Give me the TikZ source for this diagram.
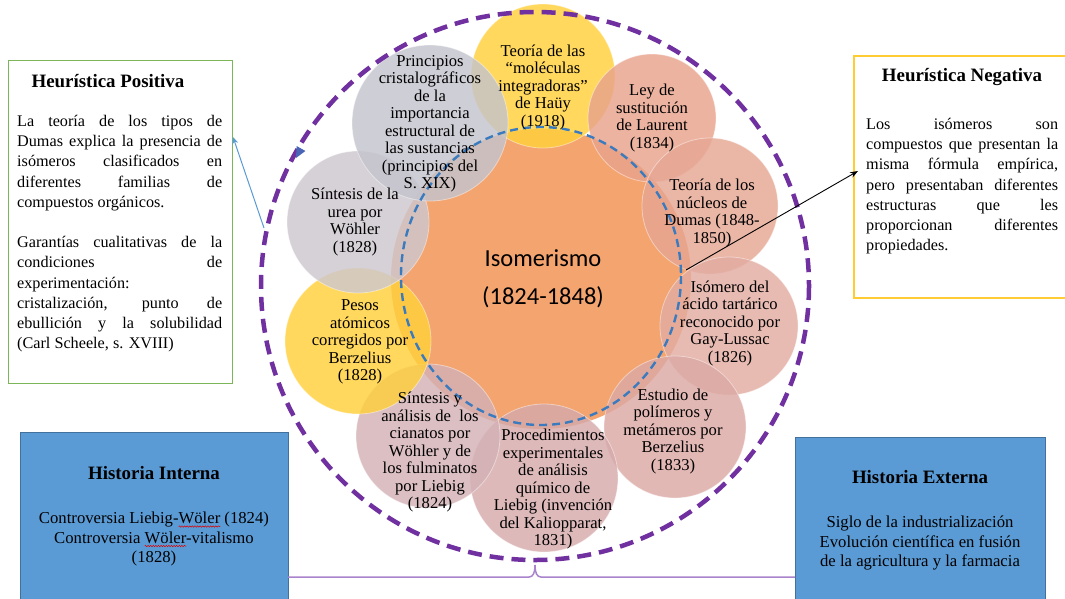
\documentclass[tikz,border=0pt]{standalone}
\usepackage{fontspec}
\setmainfont{Liberation Serif}
\newfontfamily\calibri{Carlito}
\usetikzlibrary{arrows.meta,decorations.pathmorphing}
\definecolor{purp}{HTML}{7030A0}
\definecolor{ringblue}{HTML}{3A7BBF}
\definecolor{orng}{HTML}{F4A46F}
\definecolor{cyel}{HTML}{FFD03A}
\definecolor{claur}{HTML}{E9A38C}
\definecolor{cnuc}{HTML}{E6A693}
\definecolor{ciso}{HTML}{E2ACA2}
\definecolor{cest}{HTML}{DCA9A4}
\definecolor{cproc}{HTML}{D6AAAC}
\definecolor{cian}{HTML}{D4B1B6}
\definecolor{curea}{HTML}{CEC7CF}
\definecolor{cprin}{HTML}{C4C4CD}
\definecolor{boxblue}{HTML}{5B9BD5}
\definecolor{boxedge}{HTML}{41719C}
\definecolor{hgreen}{HTML}{7DB65A}
\definecolor{hyellow}{HTML}{FFC000}
\definecolor{bracecol}{HTML}{A984CC}
\definecolor{arrblue}{HTML}{5B9BD5}
\newlength\wvlen
\newcommand\wavyword[1]{\settowidth\wvlen{#1}\rlap{\tikz[overlay,baseline=0pt,x=1pt,y=1pt]\draw[red!85!black, line width=0.5pt, decorate, decoration={snake, amplitude=0.7pt, segment length=2.6pt}] (0pt,-3pt) -- (\wvlen,-3pt);}#1}
\tikzset{
  satc/.style={circle, inner sep=0pt, minimum size=#1, fill opacity=0.82, draw=white, draw opacity=0.45, line width=0.8pt},
  sattxt/.style={align=center, inner sep=0pt, font=\fontsize{16.6}{17.5}\selectfont},
  boxtitle/.style={inner sep=0pt, font=\bfseries\fontsize{18.9}{21}\selectfont},
  boxbody/.style={inner sep=0pt, align=left, anchor=north west, font=\fontsize{16.2}{20.2}\selectfont},
  histbody/.style={inner sep=0pt, align=center, font=\fontsize{16.7}{19.5}\selectfont},
  histbox/.style={draw=boxedge, fill=boxblue, line width=1pt, inner sep=0pt, anchor=north west},
}
\begin{document}
\begin{tikzpicture}[x=1pt,y=-1pt]
\useasboundingbox (0,0) rectangle (1065,598);
\fill[white] (0,0) rectangle (1065,598);
\clip (0,0) rectangle (1065,598);

% central circle
\node[circle, fill=orng, minimum size=300, inner sep=0pt] (core) at (541,279) {};

% satellites
\node[satc=144, fill=cyel]  (s1) at (543,76) {};
\node[satc=128, fill=claur] (s2) at (652,118) {};
\node[satc=136, fill=cnuc]  (s3) at (710,206) {};
\node[satc=138, fill=ciso]  (s4) at (729,326) {};
\node[satc=142, fill=cest]  (s5) at (675,427) {};
\node[satc=148, fill=cproc] (s6) at (544,478) {};
\node[satc=144, fill=cian]  (s7) at (428,436) {};
\node[satc=146, fill=cyel]  (s8) at (358,341) {};
\node[satc=142, fill=curea] (s9) at (358,222) {};
\node[satc=156, fill=cprin] (s10) at (430,123) {};

% rings
\draw[ringblue, line width=2.4pt, dash pattern=on 8pt off 5pt] (541,276) ellipse [x radius=140, y radius=149];
\draw[purp, line width=4.5pt, dash pattern=on 14pt off 8pt] (535,286) circle [radius=274];
\fill[ringblue!70!purp] (296,158) -- (305.4,151) -- (296.6,146) -- cycle;

% centre text
\node[font=\calibri\fontsize{24.5}{38}\selectfont, align=center, inner sep=0pt] (iso) at (543,279) {Isomerismo\\(1824-1848)};

% satellite texts
\node[sattxt] (t1) at (543,87) {Teoría de las\\“moléculas\\integradoras”\\de Haüy\\(1918)};
\node[sattxt] (t2) at (652,118) {Ley de\\sustitución\\de Laurent\\(1834)};
\node[sattxt] (t3) at (712,213) {Teoría de los\\núcleos de\\Dumas (1848-\\1850)};
\node[sattxt] (t4) at (730,323) {Isómero del\\ácido tartárico\\reconocido por\\Gay-Lussac\\(1826)};
\node[sattxt] (t5) at (673,431) {Estudio de\\polímeros y\\metámeros por\\Berzelius\\(1833)};
\node[sattxt] (t6) at (553,489) {Procedimientos\\experimentales\\de análisis\\químico de\\Liebig (invención\\del Kaliopparat,\\1831)};
\node[sattxt] (t7) at (430,452) {Síntesis y\\análisis de\ \ los\\cianatos por\\Wöhler y de\\los fulminatos\\por Liebig\\(1824)};
\node[sattxt] (t8) at (360,342) {Pesos\\atómicos\\corregidos por\\Berzelius\\(1828)};
\node[sattxt] (t9) at (355,222) {Síntesis de la\\urea por\\Wöhler\\(1828)};
\node[sattxt] (t10) at (430,124) {Principios\\cristalográficos\\de la\\importancia\\estructural de\\las sustancias\\(principios del\\S. XIX)};

% Heuristica positiva
\node[draw=hgreen, line width=1.3pt, minimum width=224, minimum height=323, inner sep=0pt, anchor=north west] (hp) at (8,60) {};
\node[boxtitle] (hpt) at (108,81) {Heurística Positiva};
\node[boxbody] (hpb) at (17,115) {%
\makebox[205pt][s]{La teoría de los tipos de}\\
\makebox[205pt][s]{Dumas explica la presencia de}\\
\makebox[205pt][s]{isómeros clasificados en}\\
\makebox[205pt][s]{diferentes familias de}\\
compuestos orgánicos.\\
\mbox{}\\
\makebox[205pt][s]{Garantías cualitativas de la}\\
\makebox[205pt][s]{condiciones de}\\
experimentación:\\
\makebox[205pt][s]{cristalización, punto de}\\
\makebox[205pt][s]{ebullición y la solubilidad}\\
(Carl Scheele, s. XVIII)};

% Heuristica negativa
\node[draw=hyellow!80, line width=1.8pt, minimum width=230, minimum height=242, inner sep=0pt, anchor=north west] (hn) at (853,55) {};
\node[boxtitle] (hnt) at (962,77) {Heurística Negativa};
\node[boxbody] (hnb) at (866,118) {%
\makebox[192pt][s]{Los isómeros son}\\
\makebox[192pt][s]{compuestos que presentan la}\\
\makebox[192pt][s]{misma fórmula empírica,}\\
\makebox[192pt][s]{pero presentaban diferentes}\\
\makebox[192pt][s]{estructuras que les}\\
\makebox[192pt][s]{proporcionan diferentes}\\
propiedades.};

% Historia boxes
\node[histbox, minimum width=268, minimum height=180] (hi) at (20,432) {};
\node[boxtitle] (hit) at (154,473) {Historia Interna};
\node[histbody] (hib) at (154,539) {Controversia Liebig-\wavyword{Wöler} (1824)\\Controversia \wavyword{Wöler}-vitalismo\\(1828)};
\node[histbox, minimum width=250, minimum height=175] (he) at (795,437) {};
\node[boxtitle] (het) at (920,477) {Historia Externa};
\node[histbody] (heb) at (920,543) {Siglo de la industrialización\\Evolución científica en fusión\\de la agricultura y la farmacia};

% brace
\coordinate (brL) at (288,577);
\coordinate (brR) at (795,577);
\coordinate (brT) at (535,565);
\draw[bracecol, line width=1.5pt] (brL) -- (529,577) .. controls (533,577) and (535,573) .. (brT) .. controls (535,573) and (537,577) .. (541,577) -- (brR);

% arrows
\coordinate (bs) at (264,228);
\coordinate (bt) at (233,137);
\draw[arrblue, line width=1pt, -{Stealth[length=7pt,width=6pt]}] (bs) -- (bt);
\coordinate (ks) at (686,270);
\coordinate (kt) at (858,171);
\draw[black, line width=0.9pt, -{Stealth[length=8pt,width=6pt]}] (ks) -- (kt);
\end{tikzpicture}
\end{document}
